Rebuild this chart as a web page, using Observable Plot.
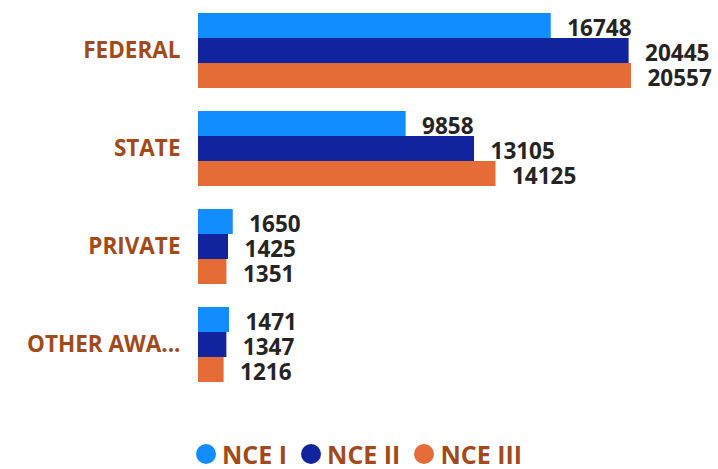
<!DOCTYPE html>
<html>
<head>
<meta charset="utf-8">
<script src="https://cdn.jsdelivr.net/npm/d3@7"></script>
<script src="https://cdn.jsdelivr.net/npm/@observablehq/plot@0.6"></script>
<style>
  html, body { margin: 0; padding: 0; background: #fff; }
  body { width: 718px; height: 469px; overflow: hidden; font-family: "Open Sans", sans-serif; }
  #legend { display: flex; justify-content: center; align-items: center; height: 48px; gap: 14px; padding-left: 0px; }
  .item { display: flex; align-items: center; gap: 6px; font-size: 25px; line-height: 1; font-weight: 700; color: #A34A1A; }
  .dot { width: 20px; height: 20px; border-radius: 50%; display: inline-block; }
</style>
</head>
<body>
<div id="chart"></div>
<div id="legend"></div>
<script>
const categories = ["FEDERAL", "STATE", "PRIVATE", "OTHER AWARDS"];
const series = ["NCE I", "NCE II", "NCE III"];
const nceI = [16748, 9858, 1650, 1471];
const nceII = [20445, 13105, 1425, 1347];
const nceIII = [20557, 14125, 1351, 1216];
const colors = ["#118DFF", "#12239E", "#E66C37"];

const valuesBySeries = [nceI, nceII, nceIII];
const data = [];
categories.forEach((c, i) => {
  series.forEach((s, j) => data.push({category: c, series: s, value: valuesBySeries[j][i]}));
});

const trunc = d => d.length > 10 ? d.slice(0, 9) + "..." : d;

const chart = Plot.plot({
  width: 718,
  height: 430,
  marginLeft: 198,
  marginRight: 20,
  marginTop: 1,
  marginBottom: 37,
  style: {fontFamily: "'Open Sans', sans-serif", background: "#fff"},
  x: {domain: [0, 23740], axis: null},
  y: {domain: series, axis: null, paddingInner: 0, paddingOuter: 0},
  fy: {domain: categories, paddingInner: 0.224, paddingOuter: 0.112, axis: null, label: null},
  color: {domain: series, range: colors},
  marks: [
    Plot.barX(data, {x: "value", y: "series", fy: "category", fill: "series"}),
    Plot.text(data, {
      x: "value", y: "series", fy: "category",
      text: d => String(d.value),
      textAnchor: "start", dx: 16, dy: 3,
      fontSize: 22.5, fontWeight: 700, fill: "#252423"
    }),
    Plot.axisFy({
      anchor: "left", label: null, tickSize: 0, tickPadding: 18,
      tickFormat: trunc, fontSize: 22.5, fontWeight: 700, fill: "#A34A1A"
    })
  ]
});
document.getElementById("chart").appendChild(chart);

const legend = document.getElementById("legend");
series.forEach((s, i) => {
  const item = document.createElement("div");
  item.className = "item";
  const dot = document.createElement("span");
  dot.className = "dot";
  dot.style.background = colors[i];
  const label = document.createElement("span");
  label.textContent = s;
  item.appendChild(dot);
  item.appendChild(label);
  legend.appendChild(item);
});
</script>
</body>
</html>
